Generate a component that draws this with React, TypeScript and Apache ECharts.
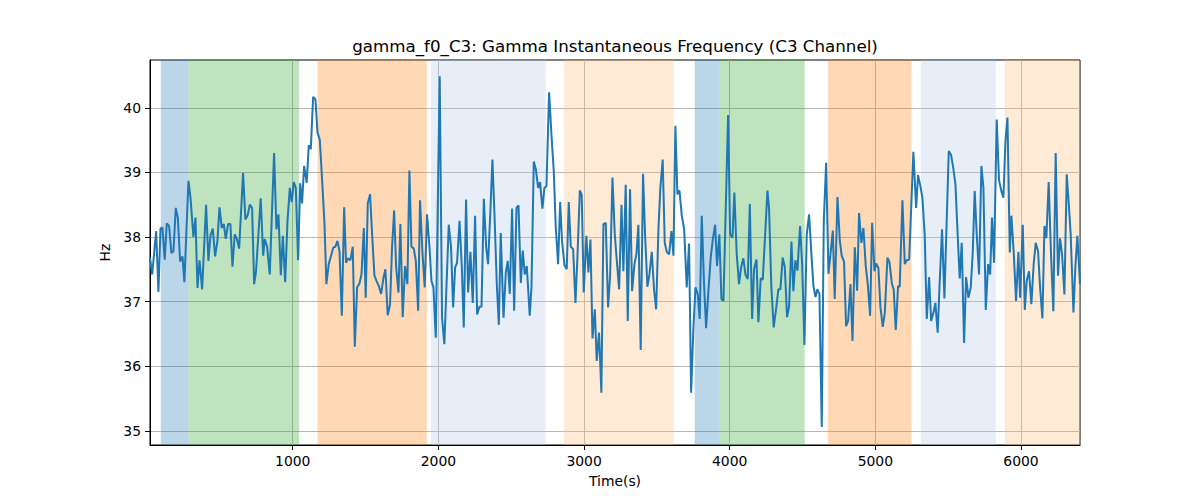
import React, { useEffect, useRef } from "react";
import * as echarts from "echarts";

const times = [
  20, 35, 62, 78, 92, 105, 121, 135, 151, 167, 181, 197, 211, 227, 243, 256, 284, 298, 318, 332,
  346, 360, 378, 405, 421, 435, 451, 467, 483, 497, 513, 527, 540, 556, 572, 586, 602, 618, 632, 659,
  675, 691, 705, 721, 735, 748, 780, 797, 808, 824, 842, 872, 888, 902, 918, 932, 948, 964, 980, 993,
  1007, 1021, 1037, 1051, 1064, 1078, 1096, 1110, 1124, 1140, 1156, 1170, 1186, 1202, 1218, 1231, 1247, 1263, 1279, 1293,
  1307, 1321, 1337, 1353, 1366, 1380, 1396, 1412, 1426, 1442, 1458, 1472, 1488, 1501, 1515, 1531, 1545, 1561, 1575, 1591,
  1607, 1623, 1636, 1652, 1668, 1682, 1696, 1710, 1726, 1739, 1755, 1771, 1787, 1801, 1815, 1831, 1845, 1861, 1874, 1890,
  1906, 1922, 1939, 1952, 1966, 1982, 2009, 2025, 2041, 2071, 2087, 2101, 2115, 2128, 2145, 2161, 2174, 2190, 2204, 2220,
  2236, 2252, 2266, 2282, 2296, 2312, 2328, 2341, 2357, 2371, 2385, 2401, 2415, 2428, 2447, 2463, 2476, 2490, 2506, 2520,
  2536, 2550, 2566, 2579, 2593, 2607, 2627, 2639, 2655, 2669, 2685, 2698, 2714, 2728, 2742, 2760, 2776, 2792, 2806, 2822,
  2836, 2849, 2865, 2881, 2895, 2909, 2925, 2941, 2955, 2971, 2984, 2998, 3016, 3030, 3044, 3058, 3074, 3087, 3103, 3119,
  3133, 3149, 3165, 3179, 3195, 3211, 3225, 3241, 3257, 3270, 3286, 3300, 3316, 3330, 3346, 3360, 3373, 3389, 3405, 3419,
  3435, 3449, 3465, 3481, 3495, 3511, 3524, 3540, 3554, 3568, 3584, 3600, 3614, 3627, 3641, 3655, 3671, 3687, 3705, 3721,
  3735, 3751, 3765, 3781, 3794, 3808, 3824, 3838, 3854, 3870, 3884, 3900, 3913, 3929, 3943, 3957, 3973, 3989, 4003, 4019,
  4032, 4048, 4064, 4078, 4094, 4108, 4124, 4138, 4154, 4167, 4184, 4197, 4213, 4227, 4243, 4259, 4270, 4286, 4302, 4321,
  4334, 4348, 4364, 4378, 4394, 4408, 4424, 4437, 4451, 4465, 4483, 4497, 4513, 4529, 4545, 4561, 4575, 4589, 4602, 4616,
  4632, 4646, 4662, 4678, 4694, 4708, 4721, 4740, 4756, 4769, 4785, 4799, 4813, 4829, 4843, 4859, 4875, 4888, 4904, 4918,
  4934, 4948, 4964, 4978, 4994, 5005, 5021, 5035, 5051, 5065, 5083, 5097, 5113, 5126, 5140, 5156, 5167, 5186, 5202, 5215,
  5232, 5248, 5261, 5280, 5293, 5309, 5323, 5339, 5353, 5369, 5383, 5399, 5412, 5428, 5442, 5458, 5474, 5488, 5504, 5520,
  5536, 5550, 5563, 5579, 5593, 5609, 5623, 5639, 5655, 5669, 5682, 5696, 5712, 5728, 5742, 5758, 5774, 5788, 5801, 5815,
  5833, 5849, 5865, 5879, 5893, 5907, 5923, 5934, 5950, 5966, 5982, 5994, 6012, 6026, 6039, 6055, 6071, 6087, 6101, 6117,
  6131, 6147, 6161, 6174, 6190, 6206, 6222, 6238, 6254, 6268, 6282, 6298, 6314, 6328, 6341, 6360, 6373, 6387, 6405,
];

const values = [
  37.68, 37.42, 38.09, 37.15, 38.13, 38.15, 37.65, 38.21, 38.17, 37.75, 37.78, 38.45, 38.3, 37.62, 37.7, 37.3, 38.87, 38.61, 38.0, 38.3,
  37.21, 37.64, 37.19, 38.5, 37.63, 38.02, 38.13, 37.7, 37.94, 38.46, 38.14, 38.2, 37.97, 38.2, 38.2, 37.54, 38.04, 37.96, 37.82, 38.99,
  38.27, 38.34, 38.5, 38.45, 37.27, 37.47, 38.6, 37.71, 37.97, 37.85, 37.42, 39.3, 38.12, 38.35, 37.41, 38.02, 37.3, 38.25, 38.76, 38.54,
  38.85, 38.76, 37.64, 38.83, 38.52, 39.1, 38.84, 39.42, 39.36, 40.17, 40.13, 39.62, 39.5, 38.87, 38.2, 37.27, 37.58, 37.71, 37.84, 37.85,
  37.94, 37.78, 36.78, 38.46, 37.6, 37.67, 37.64, 37.85, 36.3, 37.22, 37.28, 37.42, 38.14, 37.06, 38.52, 38.66, 38.04, 37.4, 37.32, 37.24,
  37.12, 37.37, 37.5, 36.79, 36.95, 37.85, 38.41, 37.53, 37.14, 38.2, 36.76, 37.55, 37.27, 39.03, 37.85, 37.82, 37.63, 36.86, 38.57, 37.78,
  37.22, 38.35, 37.84, 37.32, 37.22, 36.44, 40.49, 36.75, 36.34, 38.19, 37.84, 36.91, 37.53, 37.6, 38.25, 37.53, 36.6, 38.58, 37.14, 37.77,
  36.98, 38.33, 36.8, 36.92, 36.92, 38.59, 37.84, 37.58, 38.4, 39.2, 38.35, 37.27, 36.64, 38.06, 36.75, 37.45, 37.63, 37.12, 38.44, 36.86,
  38.45, 38.49, 37.29, 37.79, 37.42, 37.55, 36.78, 37.22, 39.17, 39.05, 38.76, 38.85, 38.44, 38.76, 38.79, 40.24, 39.59, 39.02, 38.14, 37.58,
  38.54, 37.94, 37.57, 37.5, 38.54, 37.85, 37.81, 36.98, 37.71, 38.72, 38.65, 37.14, 38.02, 37.45, 37.96, 36.43, 36.88, 36.08, 36.52, 35.59,
  38.2, 38.22, 36.91, 37.4, 38.92, 38.04, 37.63, 37.19, 38.5, 37.47, 38.81, 36.7, 38.74, 37.16, 37.58, 37.74, 38.19, 36.25, 38.98, 38.04,
  37.23, 37.42, 37.77, 37.17, 36.88, 38.14, 38.76, 39.2, 37.91, 37.77, 37.73, 38.09, 37.71, 39.72, 38.66, 38.72, 38.33, 38.13, 37.22, 37.9,
  35.59, 36.6, 37.22, 37.11, 36.73, 38.33, 37.27, 36.59, 37.17, 37.69, 37.96, 38.19, 37.55, 38.04, 37.04, 37.01, 38.45, 39.89, 38.04, 37.99,
  38.69, 37.74, 37.27, 37.53, 37.67, 37.42, 37.35, 38.51, 36.73, 37.5, 37.65, 36.68, 37.36, 37.34, 38.02, 38.72, 38.45, 37.22, 36.6, 36.93,
  37.19, 37.19, 37.68, 37.54, 36.76, 36.93, 37.93, 37.16, 37.64, 37.48, 38.17, 37.6, 36.33, 38.04, 38.35, 37.73, 37.24, 37.07, 37.19, 37.12,
  35.06, 38.25, 39.15, 37.43, 37.78, 38.1, 37.04, 38.62, 37.94, 37.71, 37.62, 36.62, 36.7, 37.27, 36.39, 37.84, 37.17, 38.37, 37.91, 38.14,
  37.55, 37.27, 36.78, 38.22, 37.47, 37.59, 37.52, 36.91, 36.61, 36.83, 37.68, 37.61, 37.28, 37.19, 36.56, 37.24, 37.23, 38.57, 37.58, 37.64,
  37.65, 38.56, 39.32, 38.45, 38.96, 38.79, 38.61, 38.02, 36.73, 37.38, 36.7, 36.83, 36.98, 36.52, 37.32, 38.12, 37.05, 38.12, 39.33, 39.27,
  39.05, 38.81, 38.14, 37.36, 37.91, 36.36, 37.38, 37.06, 37.22, 37.78, 38.71, 38.04, 37.42, 39.1, 38.76, 36.87, 37.58, 37.42, 38.3, 37.6,
  39.82, 38.88, 38.71, 38.61, 39.48, 39.85, 37.76, 38.33, 37.76, 37.01, 37.77, 37.06, 38.19, 36.87, 37.32, 37.47, 36.96, 37.58, 37.91, 37.78,
  37.22, 36.74, 38.17, 37.98, 38.85, 37.73, 36.85, 39.3, 37.4, 37.98, 37.73, 37.11, 38.97, 38.51, 38.04, 36.83, 37.53, 38.02, 37.27,
];

const spanStarts = [94, 284, 1170, 1948, 2861, 3760, 3927, 4673, 5312, 5888];
const spanEnds = [284, 1044, 1920, 2737, 3616, 3927, 4515, 5248, 5827, 6405];
const spanColors = [
  "rgba(31,119,180,0.3)",
  "rgba(44,160,44,0.3)",
  "rgba(255,127,14,0.3)",
  "rgba(174,199,232,0.3)",
  "rgba(255,187,120,0.3)",
  "rgba(31,119,180,0.3)",
  "rgba(44,160,44,0.3)",
  "rgba(255,127,14,0.3)",
  "rgba(174,199,232,0.3)",
  "rgba(255,187,120,0.3)",
];

const xTicks = [1000, 2000, 3000, 4000, 5000, 6000];
const yTicks = [35, 36, 37, 38, 39, 40];

const X_MIN = 20;
const X_MAX = 6405;
const Y_MIN = 34.78;
const Y_MAX = 40.74;

const FONT = "DejaVu Sans, sans-serif";

export default function App() {
  const ref = useRef<HTMLDivElement>(null);

  useEffect(() => {
    document.body.style.margin = "0";
    if (!ref.current) return;
    const chart = echarts.init(ref.current, undefined, { renderer: "svg" });
    const lineData = times.map((t, i) => [t, values[i]]);
    const areas = spanStarts.map((s, i) => [
      { xAxis: s, itemStyle: { color: spanColors[i] } },
      { xAxis: spanEnds[i] },
    ]);
    const option = {
      animation: false,
      backgroundColor: "#ffffff",
      grid: {
        left: 150,
        right: 120,
        top: 60,
        bottom: 55,
        show: true,
        borderColor: "#000000",
        borderWidth: 1,
        backgroundColor: "transparent",
      },
      graphic: [
        {
          type: "text",
          x: 615,
          y: 46,
          style: {
            text: "gamma_f0_C3: Gamma Instantaneous Frequency (C3 Channel)",
            font: `16.7px ${FONT}`,
            fill: "#000000",
            align: "center",
            verticalAlign: "middle",
          },
        },
      ],
      xAxis: {
        type: "value",
        min: X_MIN,
        max: X_MAX,
        name: "Time(s)",
        nameLocation: "middle",
        nameGap: 29,
        nameTextStyle: { fontFamily: FONT, fontSize: 13.9, color: "#000" },
        axisLine: { show: true, lineStyle: { color: "#000", width: 1 } },
        axisTick: {
          show: true,
          length: 5,
          lineStyle: { color: "#000" },
          customValues: xTicks,
        },
        axisLabel: {
          customValues: xTicks,
          formatter: (v: number) => String(v),
          fontFamily: FONT,
          fontSize: 13.9,
          color: "#000",
          margin: 9,
        },
        splitLine: { show: true, lineStyle: { color: "#b0b0b0", width: 0.9 } },
      },
      yAxis: {
        type: "value",
        min: Y_MIN,
        max: Y_MAX,
        name: "Hz",
        nameLocation: "middle",
        nameGap: 33,
        nameTextStyle: { fontFamily: FONT, fontSize: 13.9, color: "#000" },
        axisLine: { show: true, lineStyle: { color: "#000", width: 1 } },
        axisTick: {
          show: true,
          length: 5,
          lineStyle: { color: "#000" },
          customValues: yTicks,
        },
        axisLabel: {
          customValues: yTicks,
          formatter: (v: number) => String(v),
          fontFamily: FONT,
          fontSize: 13.9,
          color: "#000",
          margin: 9,
        },
        splitLine: { show: true, lineStyle: { color: "#b0b0b0", width: 0.9 } },
      },
      series: [
        {
          type: "line",
          data: lineData,
          showSymbol: false,
          symbol: "none",
          lineStyle: { color: "#1f77b4", width: 2 },
          z: 5,
          markArea: {
            silent: true,
            label: { show: false },
            data: areas,
          },
        },
      ],
    };
    chart.setOption(option as any);
    return () => {
      chart.dispose();
    };
  }, []);

  return <div ref={ref} style={{ width: 1200, height: 500 }} />;
}
